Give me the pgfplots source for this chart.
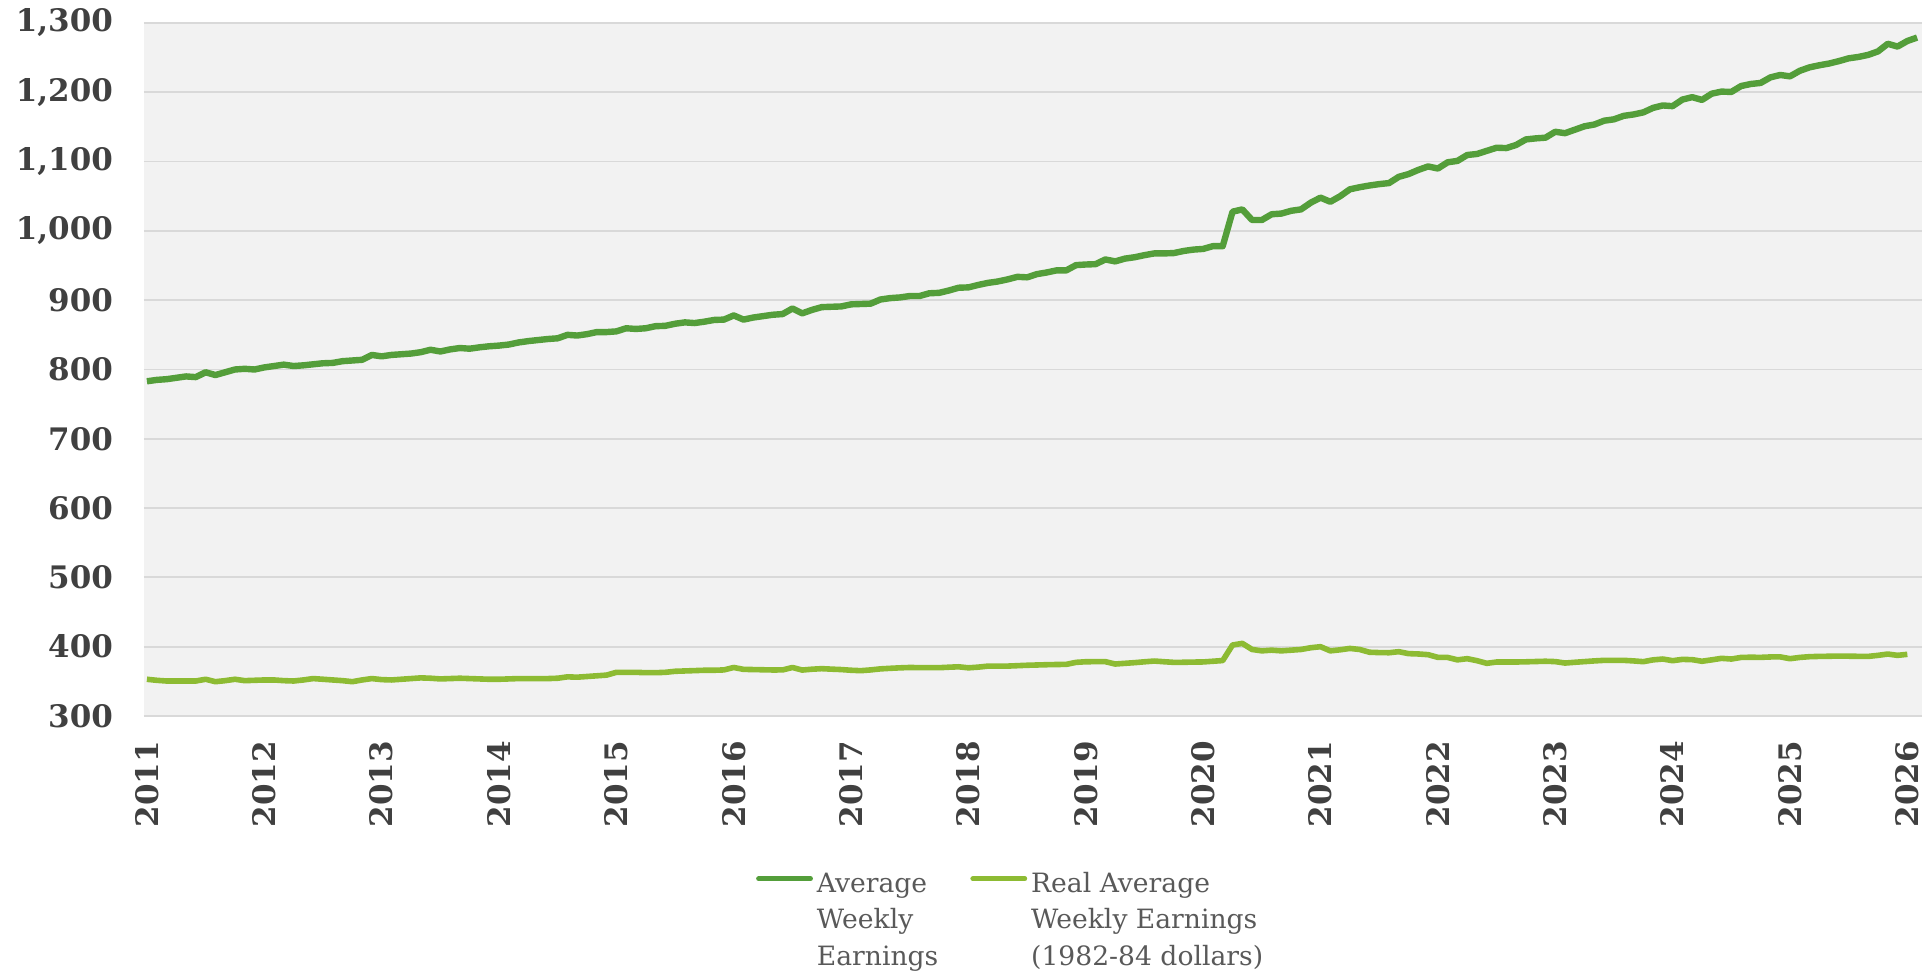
\documentclass[border=0pt]{standalone}
\usepackage{fontspec}
\setmainfont{DejaVu Serif}
\usepackage{pgfplots}
\pgfplotsset{compat=1.18}

\definecolor{awe}{RGB}{84,158,58}
\definecolor{rawe}{RGB}{141,187,51}
\definecolor{bgc}{RGB}{242,242,242}
\definecolor{gridc}{RGB}{217,217,217}
\definecolor{tickc}{RGB}{64,64,64}
\definecolor{legc}{RGB}{89,89,89}

\begin{document}
\begin{tikzpicture}
\begin{axis}[
    scale only axis,
    width=889pt, height=346.5pt,
    xmin=-0.3, xmax=181.5,
    ymin=300, ymax=1300,
    axis background/.style={fill=bgc},
    axis line style={draw=none},
    major tick length=0pt,
    ytick={300,400,...,1300},
    ymajorgrids,
    grid style={gridc, line width=0.9pt},
    xtick={0,12,...,180},
    xticklabels={2011,2012,2013,2014,2015,2016,2017,2018,2019,2020,2021,2022,2023,2024,2025,2026},
    ticklabel style={font=\fontsize{15.5}{18}\selectfont\bfseries, text=tickc},
    xticklabel style={rotate=90, anchor=east},
    xticklabel shift=9pt,
    yticklabel shift=12pt,
    yticklabel style={/pgf/number format/1000 sep={,}, /pgf/number format/assume math mode=true},
    legend cell align=left,
    legend columns=2,
    legend style={at={(0.488,-0.205)}, anchor=north, draw=none, fill=none,
        font=\fontsize{13.3}{18.3}\selectfont, text=legc,
        /tikz/every even column/.append style={column sep=14pt}},
    legend image code/.code={\draw[#1, line cap=round, line width=2.4pt] (0pt,0.1em) -- (26pt,0.1em);},
]

% Average Weekly Earnings, monthly from Jan 2011 (index 0)
\addplot[color=awe, line width=3.2pt, line join=round] coordinates {
(0,783) (1,785) (2,786) (3,788) (4,790) (5,789) (6,796) (7,792) (8,796) (9,800) (10,801) (11,800)
(12,803) (13,805) (14,807) (15,805) (16,806) (17,807.5) (18,809) (19,809.5) (20,812) (21,813) (22,814) (23,821)
(24,819) (25,821) (26,822) (27,823) (28,825) (29,828.5) (30,826) (31,829) (32,831) (33,830) (34,832) (35,833.5)
(36,834.5) (37,836) (38,839) (39,841) (40,842.5) (41,844) (42,845) (43,850) (44,849) (45,851) (46,854) (47,854)
(48,855) (49,859.5) (50,858.5) (51,859.5) (52,862.5) (53,863) (54,866) (55,868) (56,867) (57,869) (58,871.5) (59,872)
(60,878) (61,872) (62,875) (63,877) (64,879) (65,880) (66,888) (67,881) (68,886) (69,890) (70,890.5) (71,891)
(72,894) (73,894.5) (74,895) (75,901) (76,903) (77,904) (78,906) (79,906) (80,910) (81,910.6) (82,914) (83,918)
(84,918.5) (85,922) (86,925) (87,927) (88,930) (89,933.7) (90,933) (91,937.6) (92,940) (93,943) (94,943) (95,950.6)
(96,951.5) (97,952) (98,958.8) (99,956) (100,960) (101,962) (102,965) (103,967.5) (104,967.5) (105,968) (106,971) (107,973)
(108,974) (109,978) (110,978) (111,1027.7) (112,1031) (113,1015.7) (114,1015.7) (115,1024) (116,1025) (117,1029) (118,1031) (119,1040.7)
(120,1048) (121,1042) (122,1050) (123,1060) (124,1063) (125,1065.5) (126,1067.5) (127,1069) (128,1078) (129,1082) (130,1088) (131,1093)
(132,1090) (133,1099) (134,1101) (135,1109.5) (136,1111) (137,1115.5) (138,1120) (139,1119.5) (140,1124) (141,1132) (142,1133.5) (143,1134.5)
(144,1143) (145,1141) (146,1146) (147,1151) (148,1153.5) (149,1159) (150,1161) (151,1166) (152,1168) (153,1171) (154,1177.5) (155,1181)
(156,1180) (157,1189.5) (158,1193) (159,1189) (160,1198) (161,1201) (162,1200.5) (163,1209) (164,1212) (165,1213.5) (166,1221.5) (167,1225)
(168,1223) (169,1231) (170,1236) (171,1239) (172,1241.5) (173,1245) (174,1249) (175,1251) (176,1254) (177,1259) (178,1270) (179,1266)
(180,1274) (181,1279)
};
\addlegendentry{\begin{tabular}[t]{@{}l@{}}Average\\Weekly\\Earnings\end{tabular}}

% Real Average Weekly Earnings (1982-84 dollars)
\addplot[color=rawe, line width=2.8pt, line join=round] coordinates {
(0,353) (1,351.5) (2,350.5) (3,350.5) (4,350.5) (5,350.5) (6,353) (7,349.5) (8,351) (9,353) (10,351) (11,351.5)
(12,352) (13,352) (14,351) (15,350.5) (16,352) (17,354) (18,353) (19,352) (20,351) (21,349.5) (22,352) (23,354)
(24,352.5) (25,352) (26,353) (27,354) (28,355) (29,354.5) (30,353.5) (31,354) (32,354.5) (33,354) (34,353.5) (35,353)
(36,353) (37,353.5) (38,354) (39,354) (40,354) (41,354) (42,354.5) (43,356.5) (44,356) (45,357) (46,358) (47,359)
(48,363) (49,363) (50,363) (51,362.5) (52,362.5) (53,363) (54,364.5) (55,365) (56,365.5) (57,366) (58,366) (59,366.5)
(60,370) (61,367.3) (62,367) (63,366.7) (64,366.4) (65,366.5) (66,370) (67,366.3) (68,367.5) (69,368.3) (70,367.6) (71,367)
(72,366) (73,365.4) (74,366.5) (75,368) (76,368.8) (77,369.5) (78,370) (79,369.8) (80,369.7) (81,369.7) (82,370.4) (83,371)
(84,369.5) (85,370.5) (86,372) (87,372) (88,372) (89,372.6) (90,373.2) (91,373.6) (92,374) (93,374.3) (94,374.5) (95,377.4)
(96,378.3) (97,378.4) (98,378.4) (99,375) (100,376) (101,377) (102,378.2) (103,379.3) (104,378.3) (105,377.4) (106,377.5) (107,377.8)
(108,378) (109,379) (110,380) (111,402.4) (112,404.8) (113,396) (114,394) (115,395) (116,394) (117,395) (118,396) (119,398.5)
(120,400) (121,394) (122,395.5) (123,397.5) (124,396) (125,392) (126,391.5) (127,391.3) (128,392.8) (129,390) (130,389.5) (131,388.5)
(132,384.6) (133,384.5) (134,381) (135,382.7) (136,379.8) (137,376) (138,377.9) (139,377.9) (140,377.9) (141,378.2) (142,378.6) (143,379)
(144,378.5) (145,376.4) (146,377.5) (147,378.5) (148,379.5) (149,380.3) (150,380.3) (151,380.3) (152,379.5) (153,378.4) (154,381) (155,382.2)
(156,379.8) (157,381.7) (158,381.3) (159,379) (160,381) (161,383.2) (162,382.2) (163,384.5) (164,384.8) (165,384.6) (166,385.2) (167,385.3)
(168,382.7) (169,384.5) (170,385.6) (171,386) (172,386.2) (173,386.5) (174,386.3) (175,386.1) (176,386) (177,387.5) (178,389.4) (179,387.5)
(180,389)
};
\addlegendentry{\begin{tabular}[t]{@{}l@{}}Real Average\\Weekly Earnings\\(1982-84 dollars)\end{tabular}}

\end{axis}
\pgfresetboundingbox
\path[use as bounding box] (-72pt,-129pt) rectangle (890pt,358pt);
\end{tikzpicture}
\end{document}
